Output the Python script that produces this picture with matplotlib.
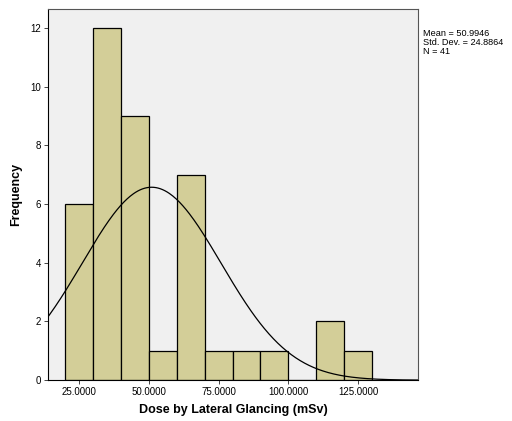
import numpy as np
import matplotlib
matplotlib.use("Agg")
import matplotlib.pyplot as plt

# histogram bins (mSv) and counts
bin_edges = [20, 30, 40, 50, 60, 70, 80, 90, 100, 110, 120, 130]
counts = [6, 12, 9, 1, 7, 1, 1, 1, 0, 2, 1]
mean_dose = 50.9946
std_dose = 24.8864
n_obs = 41
xticks = [25, 50, 75, 100, 125]
yticks = [0, 2, 4, 6, 8, 10, 12]

plt.rcParams['font.family'] = ['Liberation Sans', 'DejaVu Sans']

fig = plt.figure(figsize=(5.12, 4.21), dpi=100)
ax = fig.add_axes([0.094, 0.097, 0.722, 0.882])
ax.set_facecolor('#f0f0f0')

lefts = np.array(bin_edges[:-1])
widths = np.diff(bin_edges)
ax.bar(lefts, counts, width=widths, align='edge', color='#d3ce98',
       edgecolor='black', linewidth=0.9, zorder=2)

# normal curve scaled to counts
bw = widths[0]
xs = np.linspace(0, 160, 400)
ys = n_obs * bw / (std_dose * np.sqrt(2 * np.pi)) * np.exp(-0.5 * ((xs - mean_dose) / std_dose) ** 2)
ax.plot(xs, ys, color='black', linewidth=0.9, zorder=3)

ax.set_xlim(13.9, 146.4)
ax.set_ylim(0, 12.65)
ax.set_xticks(xticks)
ax.set_xticklabels(['%.4f' % v for v in xticks])
ax.set_yticks(yticks)
ax.tick_params(labelsize=7, length=3, width=0.7, color='#444444', pad=2)
for s in ax.spines.values():
    s.set_color('#555555')
    s.set_linewidth(0.8)
ax.spines['left'].set_color('black')
ax.spines['bottom'].set_color('black')

ax.set_xlabel('Dose by Lateral Glancing (mSv)', fontsize=9, fontweight='bold', labelpad=5)
ax.set_ylabel('Frequency', fontsize=9, fontweight='bold', labelpad=6)

fig.text(0.827, 0.930, 'Mean = %.4f\nStd. Dev. = %.4f\nN = %d' % (mean_dose, std_dose, n_obs),
         fontsize=6.6, va='top', ha='left', linespacing=0.95)

fig.savefig('out.png', dpi=100)
